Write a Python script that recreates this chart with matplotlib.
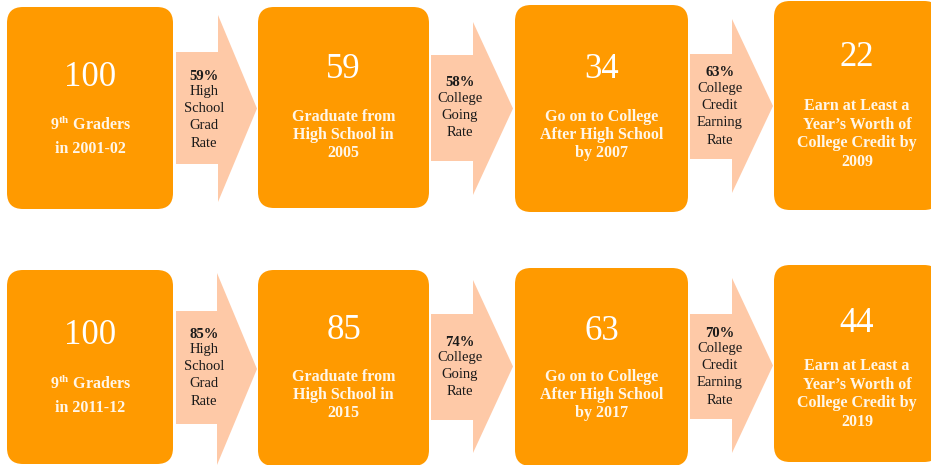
import matplotlib.pyplot as plt
from matplotlib.patches import FancyBboxPatch, Polygon

plt.rcParams['font.family'] = ['Liberation Serif', 'DejaVu Serif']
plt.rcParams['mathtext.fontset'] = 'custom'
plt.rcParams['mathtext.rm'] = 'Liberation Serif:bold'

# data
counts_2001 = [100, 59, 34, 22]
counts_2011 = [100, 85, 63, 44]
labels_2001 = ["9$^{\\rm th}$ Graders\nin 2001-02",
               "Graduate from\nHigh School in\n2005",
               "Go on to College\nAfter High School\nby 2007",
               "Earn at Least a\nYear\u2019s Worth of\nCollege Credit by\n2009"]
labels_2011 = ["9$^{\\rm th}$ Graders\nin 2011-12",
               "Graduate from\nHigh School in\n2015",
               "Go on to College\nAfter High School\nby 2017",
               "Earn at Least a\nYear\u2019s Worth of\nCollege Credit by\n2019"]
rates_2001 = ["59%", "58%", "63%"]
rates_2011 = ["85%", "74%", "70%"]
rate_names = ["High\nSchool\nGrad\nRate", "College\nGoing\nRate", "College\nCredit\nEarning\nRate"]

ORANGE = '#FF9A00'
PEACH = '#FEC9A7'

# layout (pixels)
box_x = [(7, 173), (258, 429), (515, 688), (774, 940)]
box_y_top = [(7, 209), (7, 208), (5, 212), (1, 210)]
box_y_bot = [(270, 464), (270, 466), (268, 466), (265, 462)]
num_y_top = [77, 70, 70, 58]
num_y_bot = [335, 330, 331, 323]
lab_y_top = [136, 135, 135, 134]
lab_y_bot = [395, 395, 395, 394]
# arrows: body x0, head x0, tip x, body y0, body y1, head y0, head y1
arr_top = [(176, 218, 257, 52, 164, 15, 202),
           (431, 473, 513, 55, 161, 22, 195),
           (690, 732, 773, 54, 159, 19, 193)]
arr_bot = [(176, 217, 257, 311, 424, 273, 465),
           (431, 473, 513, 314, 420, 280, 453),
           (690, 732, 773, 314, 419, 278, 453)]
rate_x = [204, 460, 720]
rate_y_top = [76, 83, 73]
rate_y_bot = [334, 342, 333]

fig = plt.figure(figsize=(9.31, 4.65), dpi=100)
ax = fig.add_axes([0, 0, 1, 1])
ax.set_xlim(0, 931)
ax.set_ylim(465, 0)
ax.axis('off')


def draw_row(counts, labels, rates, box_y, num_y, lab_y, arrows, rate_y):
    for i in range(4):
        x0, x1 = box_x[i]
        y0, y1 = box_y[i]
        ax.add_patch(FancyBboxPatch((x0, y0), x1 - x0, y1 - y0,
                                    boxstyle="round,pad=0,rounding_size=16",
                                    fc=ORANGE, ec='none'))
        cx = (x0 + x1) / 2
        if i == 3:
            cx = 857
        ax.text(cx, num_y[i], str(counts[i]), ha='center', va='center',
                color='white', fontsize=25)
        ax.text(cx, lab_y[i], labels[i], ha='center', va='center',
                color='#FFF6E8', fontsize=11.5, fontweight='bold',
                linespacing=1.2 if i > 0 else 1.55)
    for j, (bx, hx, tx, by0, by1, hy0, hy1) in enumerate(arrows):
        ty = (hy0 + hy1) / 2
        pts = [(bx, by0), (hx, by0), (hx, hy0), (tx, ty),
               (hx, hy1), (hx, by1), (bx, by1)]
        ax.add_patch(Polygon(pts, closed=True, fc=PEACH, ec='none'))
        ax.text(rate_x[j], rate_y[j], rates[j], ha='center', va='center',
                color='#1a1a1a', fontsize=10.5, fontweight='bold')
        ax.text(rate_x[j], rate_y[j] + 9, rate_names[j], ha='center', va='top',
                color='#1a1a1a', fontsize=10.5, linespacing=1.42)


draw_row(counts_2001, labels_2001, rates_2001, box_y_top, num_y_top,
         lab_y_top, arr_top, rate_y_top)
draw_row(counts_2011, labels_2011, rates_2011, box_y_bot, num_y_bot,
         lab_y_bot, arr_bot, rate_y_bot)

fig.savefig('out.png', dpi=100)
